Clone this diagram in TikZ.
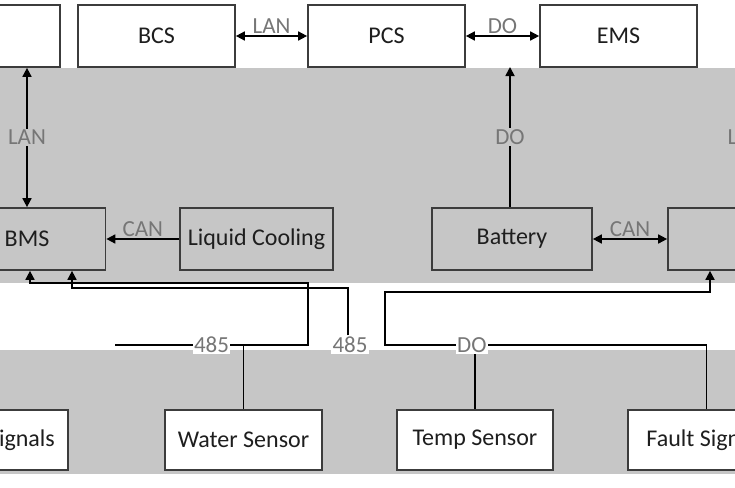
\documentclass[tikz,border=0pt]{standalone}
\usepackage{fontspec}
\setmainfont{Carlito}
\usetikzlibrary{arrows.meta}
\definecolor{bggray}{HTML}{C6C6C6}
\definecolor{edgegray}{HTML}{3C3C3C}
\definecolor{labelgray}{HTML}{767676}
\definecolor{textdark}{HTML}{1E1E1E}
\begin{document}
\begin{tikzpicture}[x=1pt,y=-1pt,
  box/.style={draw=edgegray, line width=1.7pt, minimum height=62pt, inner sep=0pt,
              font=\fontsize{24}{28}\selectfont, text=textdark},
  conn/.style={line width=1.7pt, draw=black},
  tip/.style={-{Triangle[length=9pt,width=9pt]}},
  dtip/.style={{Triangle[length=9pt,width=9pt]}-{Triangle[length=9pt,width=9pt]}},
  lbl/.style={font=\fontsize{23}{27}\selectfont, text=labelgray, inner sep=1.5pt}]
\useasboundingbox (0,0) rectangle (735,487);
\fill[white] (0,0) rectangle (735,487);
\fill[bggray] (0,68) rectangle (735,283);
\fill[bggray] (0,350) rectangle (735,474);

% top row
\node[box, fill=white, minimum width=170pt] (t0) at (-25,36) {};
\node[box, fill=white, minimum width=157pt] (t1) at (156.5,36) {BCS};
\node[box, fill=white, minimum width=157pt] (t2) at (386.5,36) {PCS};
\node[box, fill=white, minimum width=157pt] (t3) at (618.5,36) {EMS};

% middle row
\node[box, minimum width=157pt] (bms) at (27,239) {BMS};
\node[box, minimum width=153pt] (lc) at (256.5,239) {Liquid Cooling};
\node[box, minimum width=160pt] (bat) at (512,239) {Battery};
\node[box, minimum width=157pt] (rb) at (746.5,239) {};

% bottom row
\node[box, fill=white, minimum width=157pt, minimum height=60pt] (sig) at (-10.5,440) {Alarm Signals};
\node[box, fill=white, minimum width=157pt, minimum height=60pt] (ws) at (243.5,440) {Water Sensor};
\node[box, fill=white, minimum width=156pt, minimum height=60pt] (ts) at (475,440) {Temp Sensor};
\node[box, fill=white, minimum width=157pt, minimum height=60pt] (fs) at (706.5,440) {Fault Signals};

% free ends
\coordinate (doTop) at (510,67);
\coordinate (rTop) at (746.5,67);
\coordinate (a0) at (115,345);
\coordinate (xA) at (30,0);
\coordinate (xB) at (72,0);
\coordinate (xC) at (710,0);
\coordinate (yLow) at (0,345);

% top connectors
\draw[conn, dtip] (t1.east) -- node[lbl, above]{LAN} (t2.west);
\draw[conn, dtip] (t2.east) -- node[lbl, above]{DO} (t3.west);

% vertical connectors
\draw[conn, dtip] (bms.north |- t0.south) -- node[lbl, fill=bggray]{LAN} (bms.north);
\draw[conn, tip] (bat.north -| doTop) -- node[lbl, fill=bggray]{DO} (doTop);
\draw[conn, dtip] (rb.north) -- node[lbl, fill=bggray]{LAN} (rTop);

% CAN links
\draw[conn, tip] (lc.west) -- node[lbl, above]{CAN} (bms.east);
\draw[conn, dtip] (bat.east) -- node[lbl, above]{CAN} (rb.west);

% sensor bus
\draw[conn] (ws.north) -- (ws.north |- a0);
\draw[conn, tip] (a0) -- node[lbl, fill=white]{485} (308,345) -- (308,283) -- (30,283) -- (bms.south -| xA);

\node[lbl, fill=white] (l485) at (350,345) {485};
\draw[conn, tip] (l485.north -| 348,0) -- (348,288) -- (72,288) -- (bms.south -| xB);

\draw[conn] (ts.north) -- (ts.north |- yLow);
\draw[conn, tip] (fs.north) -- (fs.north |- yLow) -- node[lbl, fill=white, pos=0.73]{DO} (385,345) -- (385,292) -- (710,292) -- (rb.south -| xC);
\end{tikzpicture}
\end{document}
